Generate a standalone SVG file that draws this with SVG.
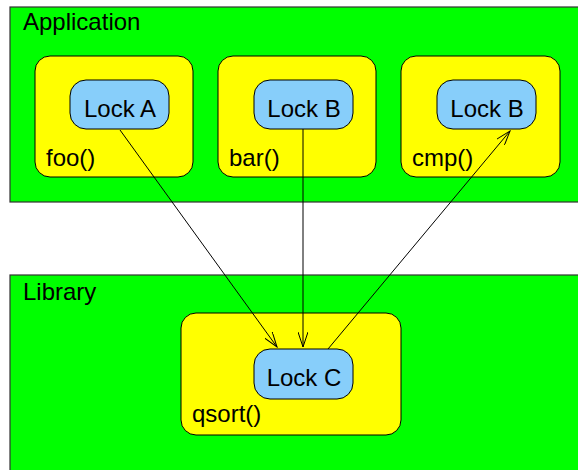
<svg xmlns="http://www.w3.org/2000/svg" width="578" height="470" viewBox="0 0 578 470">
<style>
text{font-family:"Liberation Sans",Arial,sans-serif;font-size:24px;fill:#000}
.area{fill:#00ff00;stroke:#333;stroke-width:1.2}
.func{fill:#ffff00;stroke:#000;stroke-width:1}
.lock{fill:#87cefa;stroke:#000;stroke-width:1}
.lk{text-anchor:middle}
.conn{fill:none;stroke:#000;stroke-width:1;marker-end:url(#arr)}
</style>
<defs>
<marker id="arr" viewBox="0 0 16 10" refX="15" refY="5" markerWidth="16" markerHeight="10" markerUnits="userSpaceOnUse" orient="auto">
<polyline points="0,0 15,5 0,10" fill="none" stroke="#000" stroke-width="1"/>
</marker>
</defs>
<rect width="578" height="470" fill="#fff"/>
<g id="application">
<rect class="area" x="10" y="7" width="580" height="195"/>
<text x="23" y="30">Application</text>
</g>
<g id="library">
<rect class="area" x="10" y="275" width="580" height="210"/>
<text x="23" y="300">Library</text>
</g>
<g id="foo">
<rect class="func" x="35" y="56" width="158" height="121" rx="15"/>
<text x="46" y="166">foo()</text>
</g>
<g id="lockA">
<rect class="lock" x="70" y="80" width="99" height="49" rx="16"/>
<text class="lk" x="120" y="117">Lock A</text>
</g>
<g id="bar">
<rect class="func" x="218" y="56" width="158" height="121" rx="15"/>
<text x="229" y="166">bar()</text>
</g>
<g id="lockB1">
<rect class="lock" x="254" y="80" width="99" height="49" rx="16"/>
<text class="lk" x="304" y="117">Lock B</text>
</g>
<g id="cmp">
<rect class="func" x="401" y="56" width="159" height="121" rx="15"/>
<text x="412" y="166">cmp()</text>
</g>
<g id="lockB2">
<rect class="lock" x="437" y="80" width="99" height="49" rx="16"/>
<text class="lk" x="487" y="117">Lock B</text>
</g>
<g id="qsort">
<rect class="func" x="181" y="313" width="220" height="122" rx="15"/>
<text x="192" y="422">qsort()</text>
</g>
<g id="lockC">
<rect class="lock" x="254" y="349" width="99" height="50" rx="16"/>
<text class="lk" x="304" y="386">Lock C</text>
</g>
<g id="connectors">
<line class="conn" x1="120" y1="130" x2="277" y2="347"/>
<line class="conn" x1="303" y1="129" x2="303" y2="347"/>
<line class="conn" x1="328" y1="349" x2="510" y2="131"/>
</g>
</svg>
